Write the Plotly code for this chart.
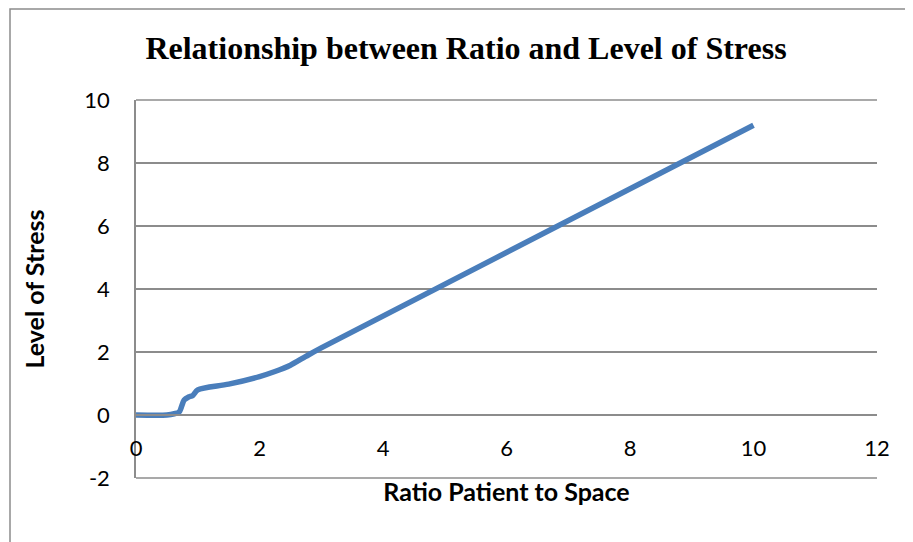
import plotly.graph_objects as go

ratio = [0, 0.5, 0.62, 0.7, 0.78, 0.85, 0.92, 1.0, 1.5, 2.0, 2.25, 2.5, 2.75, 3.0, 10.0]
stress = [0, 0, 0.04, 0.1, 0.48, 0.57, 0.62, 0.8, 0.98, 1.22, 1.38, 1.58, 1.86, 2.13, 9.2]
x_ticks = [0, 2, 4, 6, 8, 10, 12]
y_ticks = [-2, 0, 2, 4, 6, 8, 10]
y_tick_text = ["-2", "0", "2", "4", "6", "8", "10"]

OFF = 8  # page body margin
W, H = 913, 542
L, R, T, B = 136 - OFF, 877 - OFF, 100 - OFF, 478 - OFF

fig = go.Figure()
fig.add_trace(go.Scatter(
    x=ratio, y=stress, mode="lines",
    line=dict(color="#4a7ebb", width=5.5, shape="spline", smoothing=0.8),
    showlegend=False, hoverinfo="skip"))

grid = "#8c8c8c"
fam = "Lato, Calibri, sans-serif"
tickfont = dict(family=fam, size=22, color="#000000")
fig.update_layout(
    width=W, height=H,
    margin=dict(l=L, r=W - R, t=T, b=H - B),
    paper_bgcolor="white", plot_bgcolor="white",
    title=dict(text="<b>Relationship between Ratio and Level of Stress</b>",
               font=dict(family="Liberation Serif, Times New Roman, serif", size=32, color="#000000"),
               x=(466 - OFF) / W, xref="container", xanchor="center",
               y=1 - (48 - OFF) / H, yref="container", yanchor="middle"),
    xaxis=dict(range=[0, 12], tickvals=x_ticks, showgrid=False, zeroline=False,
               anchor="free", position=2 / 12, showline=True, linecolor=grid, linewidth=1.5,
               ticks="", ticklabelstandoff=14, tickfont=tickfont, automargin=False,
               title=dict(text="<b>Ratio Patient to Space</b>",
                          font=dict(family=fam, size=25, color="#000000"),
                          standoff=22)),
    yaxis=dict(range=[-2, 10], tickvals=y_ticks, ticktext=y_tick_text,
               showgrid=True, gridcolor=grid, gridwidth=1.5,
               zeroline=True, zerolinecolor=grid, zerolinewidth=1.5,
               showline=True, linecolor=grid, linewidth=1.5, ticks="",
               ticklabelstandoff=20, tickfont=tickfont, automargin=False,
               title=dict(text="<b>Level of Stress</b>",
                          font=dict(family=fam, size=25, color="#000000"),
                          standoff=33)),
)
# gridlines at range edges
fig.add_shape(type="line", xref="paper", yref="paper", x0=0, x1=1, y0=1, y1=1,
              line=dict(color=grid, width=1.5))
fig.add_shape(type="line", xref="paper", yref="paper", x0=0, x1=1, y0=0, y1=0,
              line=dict(color=grid, width=1.5))
# chart border
fig.add_shape(type="rect", xref="paper", yref="paper",
              x0=(10 - OFF - L) / (R - L), x1=(930 - OFF - L) / (R - L),
              y0=(B - (560 - OFF)) / (B - T), y1=(B - (9 - OFF)) / (B - T),
              line=dict(color="#8c8c8c", width=1.5), layer="below")

fig.write_html("out.html")
